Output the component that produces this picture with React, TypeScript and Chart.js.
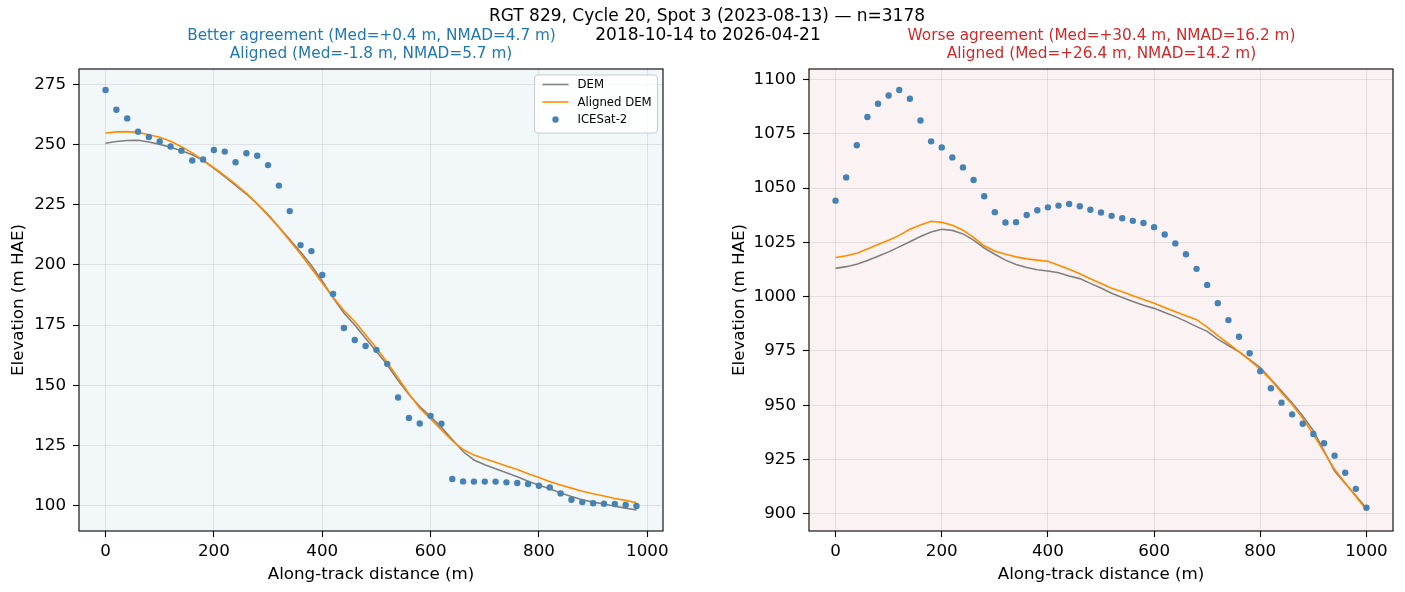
import React, { useEffect, useRef } from "react";
import { Chart, registerables } from "chart.js";

Chart.register(...registerables);

const FONT = '"DejaVu Sans", "Liberation Sans", sans-serif';
const FS = 16.7;

// ---------------- data ----------------
const leftDistance = [
  0, 20, 40, 60, 80, 100, 120, 140, 160, 180, 200, 220, 240, 260, 280, 300, 320, 340, 360, 380,
  400, 420, 440, 460, 480, 500, 520, 540, 560, 580, 600, 620, 640, 660, 680, 700, 720, 740, 760, 780,
  800, 820, 840, 860, 880, 900, 920, 940, 960, 980,
];
const leftIcesat = [
  272.6, 264.4, 260.8, 255.3, 253.1, 251.2, 249.1, 247.4, 243.3, 243.7, 247.7, 247.0, 242.6, 246.3, 245.3, 241.4, 232.9, 222.3, 208.2, 205.7,
  195.8, 187.9, 173.8, 168.8, 166.3, 164.7, 158.9, 144.9, 136.4, 134.1, 137.3, 134.0, 111.1, 110.1, 110.0, 110.0, 110.0, 109.7, 109.4, 109.0,
  108.3, 107.6, 105.1, 102.5, 101.5, 101.0, 100.8, 100.7, 100.3, 99.9,
];
const leftDem = [
  250.5, 251.2, 251.6, 251.7, 251.0, 250.0, 248.8, 247.4, 245.7, 243.4, 240.0, 236.6, 233.0, 229.4, 225.3, 220.9, 215.7, 210.5, 205.3, 199.7,
  193.3, 186.3, 180.0, 175.0, 169.5, 164.0, 158.5, 152.0, 146.2, 141.2, 137.0, 132.5, 127.5, 122.5, 119.0, 117.0, 115.3, 113.7, 112.0, 110.2,
  108.5, 107.0, 105.3, 103.8, 102.5, 101.5, 100.7, 99.8, 99.0, 98.2,
];
const leftAligned = [
  254.7, 255.2, 255.3, 255.0, 254.0, 253.0, 251.3, 249.0, 246.5, 243.5, 240.3, 237.0, 233.5, 229.7, 225.3, 220.5, 215.5, 210.0, 204.5, 198.5,
  192.5, 186.5, 181.0, 176.5, 171.0, 165.5, 159.5, 153.0, 146.5, 140.5, 136.0, 131.5, 127.0, 123.3, 121.0, 119.5, 118.0, 116.5, 115.0, 113.3,
  111.7, 110.0, 108.6, 107.3, 106.0, 105.0, 104.0, 103.0, 102.2, 101.2,
];

const rightDistance = [
  0, 20, 40, 60, 80, 100, 120, 140, 160, 180, 200, 220, 240, 260, 280, 300, 320, 340, 360, 380,
  400, 420, 440, 460, 480, 500, 520, 540, 560, 580, 600, 620, 640, 660, 680, 700, 720, 740, 760, 780,
  800, 820, 840, 860, 880, 900, 920, 940, 960, 980, 1000,
];
const rightIcesat = [
  1044.2, 1054.9, 1069.7, 1082.7, 1088.8, 1092.6, 1095.1, 1091.1, 1081.1, 1071.5, 1068.7, 1064.1, 1059.5, 1053.7, 1046.2, 1038.9, 1034.1, 1034.3, 1037.6, 1039.8,
  1041.1, 1041.9, 1042.7, 1041.6, 1040.0, 1038.7, 1037.2, 1036.1, 1034.9, 1033.9, 1032.0, 1028.6, 1024.5, 1019.5, 1012.8, 1005.4, 997.0, 989.2, 981.5, 973.9,
  965.7, 957.8, 951.2, 945.8, 941.5, 936.8, 932.5, 926.8, 918.9, 911.5, 902.8,
];
const rightDem = [
  1013.0, 1013.8, 1014.9, 1016.6, 1018.6, 1020.6, 1022.9, 1025.3, 1027.7, 1029.8, 1031.0, 1030.5, 1028.9, 1026.0, 1022.4, 1019.5, 1016.8, 1014.8, 1013.4, 1012.4,
  1011.8, 1011.0, 1009.5, 1008.3, 1006.1, 1004.0, 1001.6, 999.6, 997.8, 996.0, 994.6, 992.7, 990.8, 988.6, 986.2, 984.0, 980.4, 977.5, 974.6, 971.0,
  967.3, 962.0, 956.5, 951.0, 945.0, 938.3, 929.0, 919.7, 914.0, 908.3, 902.6,
];
const rightAligned = [
  1018.0, 1018.8, 1020.0, 1021.9, 1024.0, 1026.0, 1028.2, 1031.0, 1033.0, 1034.7, 1034.2, 1032.9, 1030.6, 1027.3, 1023.4, 1021.0, 1019.5, 1018.3, 1017.4, 1016.8,
  1016.3, 1014.5, 1012.6, 1010.5, 1008.2, 1006.0, 1003.9, 1002.2, 1000.4, 998.7, 997.0, 995.0, 993.0, 991.2, 989.4, 986.0, 982.0, 978.4, 974.7, 970.8,
  966.5, 961.7, 955.8, 950.3, 944.0, 936.5, 928.5, 920.5, 914.2, 908.0, 901.8,
];

const leftXTicks = [0, 200, 400, 600, 800, 1000];
const leftYTicks = [100, 125, 150, 175, 200, 225, 250, 275];
const rightXTicks = [0, 200, 400, 600, 800, 1000];
const rightYTicks = [900, 925, 950, 975, 1000, 1025, 1050, 1075, 1100];

const seriesLabels = ["DEM", "Aligned DEM", "ICESat-2"];

const suptitleLines = ["RGT 829, Cycle 20, Spot 3 (2023-08-13) \u2014 n=3178", "2018-10-14 to 2026-04-21"];
const leftTitleLines = ["Better agreement (Med=+0.4 m, NMAD=4.7 m)", "Aligned (Med=-1.8 m, NMAD=5.7 m)"];
const rightTitleLines = ["Worse agreement (Med=+30.4 m, NMAD=16.2 m)", "Aligned (Med=+26.4 m, NMAD=14.2 m)"];
const xAxisLabel = "Along-track distance (m)";
const yAxisLabel = "Elevation (m HAE)";

// ---------------- styles ----------------
const DEM_COLOR = "#808080";
const ALIGNED_COLOR = "#ff8c00";
const ICESAT_COLOR = "#4682b4";
const GRID_COLOR = "rgba(0,0,0,0.085)";

const bgPlugin = {
  id: "panelBg",
  beforeDraw(chart: any, _a: any, opts: any) {
    const { ctx, chartArea } = chart;
    ctx.save();
    ctx.fillStyle = opts.color;
    ctx.fillRect(chartArea.left, chartArea.top, chartArea.right - chartArea.left, chartArea.bottom - chartArea.top);
    ctx.restore();
  },
};

const framePlugin = {
  id: "frame",
  afterDraw(chart: any) {
    const { ctx, chartArea } = chart;
    ctx.save();
    ctx.strokeStyle = "#000";
    ctx.lineWidth = 1.1;
    ctx.strokeRect(chartArea.left, chartArea.top, chartArea.right - chartArea.left, chartArea.bottom - chartArea.top);
    ctx.restore();
  },
};

const legendPlugin = {
  id: "innerLegend",
  afterDraw(chart: any, _a: any, opts: any) {
    if (!opts || !opts.show) return;
    const { ctx, chartArea } = chart;
    const w = 123;
    const h = 58;
    const x = chartArea.right - 5.5 - w;
    const y = chartArea.top + 6;
    ctx.save();
    ctx.beginPath();
    const r = 3;
    ctx.moveTo(x + r, y);
    ctx.lineTo(x + w - r, y);
    ctx.arcTo(x + w, y, x + w, y + r, r);
    ctx.lineTo(x + w, y + h - r);
    ctx.arcTo(x + w, y + h, x + w - r, y + h, r);
    ctx.lineTo(x + r, y + h);
    ctx.arcTo(x, y + h, x, y + h - r, r);
    ctx.lineTo(x, y + r);
    ctx.arcTo(x, y, x + r, y, r);
    ctx.closePath();
    ctx.fillStyle = "rgba(255,255,255,0.8)";
    ctx.fill();
    ctx.strokeStyle = "#cccccc";
    ctx.lineWidth = 1;
    ctx.stroke();

    const rowY = [y + 9.5, y + 27, y + 44.5];
    const hx0 = x + 8;
    const hx1 = x + 34;
    ctx.font = `11.7px ${FONT}`;
    ctx.textBaseline = "middle";
    ctx.textAlign = "left";
    chart.data.datasets.forEach((ds: any, i: number) => {
      const yy = rowY[i];
      if (ds.showLine) {
        ctx.strokeStyle = ds.borderColor;
        ctx.lineWidth = 1.6;
        ctx.beginPath();
        ctx.moveTo(hx0, yy);
        ctx.lineTo(hx1, yy);
        ctx.stroke();
      } else {
        ctx.fillStyle = ds.pointBackgroundColor;
        ctx.beginPath();
        ctx.arc((hx0 + hx1) / 2, yy, 3.2, 0, Math.PI * 2);
        ctx.fill();
      }
      ctx.fillStyle = "#000";
      ctx.fillText(ds.label, x + 43, yy + 0.5);
    });
    ctx.restore();
  },
};

type Panel = {
  dist: number[];
  icesat: number[];
  dem: number[];
  aligned: number[];
  xTicks: number[];
  yTicks: number[];
  xMin: number;
  xMax: number;
  yMin: number;
  yMax: number;
  width: number;
  yScaleWidth: number;
  padRight: number;
  yTitlePad: number;
  bg: string;
  legend: boolean;
};

function pts(xs: number[], ys: number[]) {
  return xs.map((x, i) => ({ x, y: ys[i] }));
}

function makeConfig(p: Panel): any {
  const tickFont = { family: FONT, size: FS };
  return {
    type: "scatter",
    data: {
      datasets: [
        {
          label: seriesLabels[0],
          data: pts(p.dist, p.dem),
          showLine: true,
          borderColor: DEM_COLOR,
          backgroundColor: DEM_COLOR,
          borderWidth: 1.6,
          pointRadius: 0,
          order: 3,
        },
        {
          label: seriesLabels[1],
          data: pts(p.dist, p.aligned),
          showLine: true,
          borderColor: ALIGNED_COLOR,
          backgroundColor: ALIGNED_COLOR,
          borderWidth: 1.6,
          pointRadius: 0,
          order: 2,
        },
        {
          label: seriesLabels[2],
          data: pts(p.dist, p.icesat),
          showLine: false,
          pointRadius: 3.2,
          pointBackgroundColor: ICESAT_COLOR,
          pointBorderColor: ICESAT_COLOR,
          pointBorderWidth: 0,
          order: 1,
        },
      ],
    },
    options: {
      responsive: false,
      animation: false,
      devicePixelRatio: 1,
      layout: { padding: { top: 69, right: p.padRight, bottom: 0, left: 0 } },
      plugins: {
        legend: { display: false },
        tooltip: { enabled: false },
        title: { display: false },
        panelBg: { color: p.bg },
        innerLegend: { show: p.legend },
      },
      scales: {
        x: {
          type: "linear",
          position: "bottom",
          min: p.xMin,
          max: p.xMax,
          afterBuildTicks: (s: any) => {
            s.ticks = p.xTicks.map((v) => ({ value: v }));
          },
          afterFit: (s: any) => {
            s.height = 61;
            s.paddingLeft = 0;
            s.paddingRight = 0;
          },
          border: { display: false },
          grid: { color: GRID_COLOR, lineWidth: 1, drawTicks: true, tickLength: 6, tickColor: "#000", tickWidth: 1.1 },
          ticks: {
            font: tickFont,
            color: "#000",
            padding: 5,
            maxRotation: 0,
            autoSkip: false,
            callback: (v: any) => String(v),
          },
          title: {
            display: true,
            text: xAxisLabel,
            font: { family: FONT, size: FS },
            color: "#000",
            padding: { top: 0, bottom: 7 },
          },
        },
        y: {
          type: "linear",
          position: "left",
          min: p.yMin,
          max: p.yMax,
          afterBuildTicks: (s: any) => {
            s.ticks = p.yTicks.map((v) => ({ value: v }));
          },
          afterFit: (s: any) => {
            s.width = p.yScaleWidth;
            s.paddingTop = 0;
            s.paddingBottom = 0;
          },
          border: { display: false },
          grid: { color: GRID_COLOR, lineWidth: 1, drawTicks: true, tickLength: 6, tickColor: "#000", tickWidth: 1.1 },
          ticks: {
            font: tickFont,
            color: "#000",
            padding: 7,
            autoSkip: false,
            callback: (v: any) => String(v),
          },
          title: {
            display: true,
            text: yAxisLabel,
            font: { family: FONT, size: FS },
            color: "#000",
            padding: { top: p.yTitlePad, bottom: 0 },
          },
        },
      },
    },
    plugins: [bgPlugin, framePlugin, legendPlugin],
  };
}

function PanelChart({ panel, left }: { panel: Panel; left: number }) {
  const ref = useRef<HTMLCanvasElement | null>(null);
  useEffect(() => {
    if (!ref.current) return;
    const chart = new Chart(ref.current, makeConfig(panel));
    return () => chart.destroy();
  }, [panel]);
  return (
    <canvas
      ref={ref}
      width={panel.width}
      height={592}
      style={{ position: "absolute", left, top: 0, width: panel.width, height: 592 }}
    />
  );
}

const leftPanel: Panel = {
  dist: leftDistance,
  icesat: leftIcesat,
  dem: leftDem,
  aligned: leftAligned,
  xTicks: leftXTicks,
  yTicks: leftYTicks,
  xMin: -49,
  xMax: 1029,
  yMin: 89.5,
  yMax: 281.3,
  width: 700,
  yScaleWidth: 79,
  padRight: 37,
  yTitlePad: 9,
  bg: "#f2f7fa",
  legend: true,
};

const rightPanel: Panel = {
  dist: rightDistance,
  icesat: rightIcesat,
  dem: rightDem,
  aligned: rightAligned,
  xTicks: rightXTicks,
  yTicks: rightYTicks,
  xMin: -50,
  xMax: 1050,
  yMin: 892.1,
  yMax: 1104.8,
  width: 705,
  yScaleWidth: 109,
  padRight: 12,
  yTitlePad: 30,
  bg: "#faf2f3",
  legend: false,
};

function Label({ x, y, text, color, size }: { x: number; y: number; text: string; color: string; size: number }) {
  return (
    <div
      style={{
        position: "absolute",
        left: x,
        top: y,
        transform: "translate(-50%, -50%)",
        whiteSpace: "nowrap",
        fontFamily: FONT,
        fontSize: size,
        lineHeight: 1,
        color,
      }}
    >
      {text}
    </div>
  );
}

export default function App() {
  return (
    <div
      style={{
        position: "absolute",
        left: 0,
        top: 0,
        width: 1405,
        height: 592,
        background: "#fff",
        overflow: "hidden",
      }}
    >
      <PanelChart panel={leftPanel} left={0} />
      <PanelChart panel={rightPanel} left={700} />
      <Label x={707} y={15} text={suptitleLines[0]} color="#000" size={17} />
      <Label x={708} y={34} text={suptitleLines[1]} color="#000" size={17} />
      <Label x={371.5} y={36} text={leftTitleLines[0]} color="#1f77b4" size={15.3} />
      <Label x={371} y={54} text={leftTitleLines[1]} color="#1f77b4" size={15.3} />
      <Label x={1101.5} y={36} text={rightTitleLines[0]} color="#d62728" size={15.3} />
      <Label x={1101.5} y={54} text={rightTitleLines[1]} color="#d62728" size={15.3} />
    </div>
  );
}
